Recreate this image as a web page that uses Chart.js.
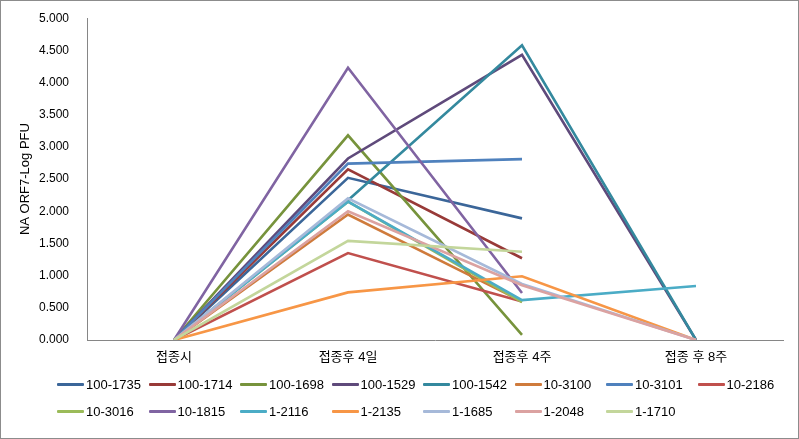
<!DOCTYPE html>
<html>
<head>
<meta charset="utf-8">
<script src="https://cdn.jsdelivr.net/npm/chart.js@4/dist/chart.umd.min.js"></script>
<style>
  html, body { margin: 0; padding: 0; background: #fff; }
  #wrap { position: relative; width: 797px; height: 437px; border: 1px solid #8c8c8c; overflow: hidden; }
  #chart { position: absolute; left: 0; top: -8px; }
  #legend { position: absolute; left: 56px; top: 374px; width: 740px;
            font-family: "Liberation Sans", Arial, sans-serif; font-size: 13px; color: #000; }
  .item { position: absolute; height: 20px; line-height: 20px; white-space: nowrap; }
  .item span.mark { display: inline-block; width: 27px; height: 3px; vertical-align: middle;
                    margin-right: 2px; border-radius: 1px; position: relative; top: -1px; }
</style>
</head>
<body>
<div id="wrap">
  <canvas id="chart" width="797" height="445"></canvas>
  <div id="legend"></div>
</div>
<script>
// --- DATA ---
const categories = ['접종시', '접종후 4일', '접종후 4주', '접종 후 8주'];
const yTicks = ['0.000', '0.500', '1.000', '1.500', '2.000', '2.500', '3.000', '3.500', '4.000', '4.500', '5.000'];

const seriesNames = ['100-1735', '100-1714', '100-1698', '100-1529', '100-1542', '10-3100', '10-3101', '10-2186',
                     '10-3016', '10-1815', '1-2116', '1-2135', '1-1685', '1-2048', '1-1710'];

const v100_1735 = [0, 2.52, 1.89, null];
const v100_1714 = [0, 2.65, 1.27, null];
const v100_1698 = [0, 3.18, 0.08, null];
const v100_1529 = [0, 2.82, 4.43, 0];
const v100_1542 = [0, 2.17, 4.58, 0];
const v10_3100  = [0, 1.95, 0.60, null];
const v10_3101  = [0, 2.74, 2.81, null];
const v10_2186  = [0, 1.35, 0.60, null];
const v10_3016  = [0, 2.15, 0.59, null];
const v10_1815  = [0, 4.23, 0.73, null];
const v1_2116   = [0, 2.15, 0.62, 0.84];
const v1_2135   = [0, 0.74, 0.99, 0];
const v1_1685   = [0, 2.20, 0.87, 0];
const v1_2048   = [0, 2.00, 0.85, 0];
const v1_1710   = [0, 1.54, 1.37, null];

const seriesValues = [v100_1735, v100_1714, v100_1698, v100_1529, v100_1542, v10_3100, v10_3101, v10_2186,
                      v10_3016, v10_1815, v1_2116, v1_2135, v1_1685, v1_2048, v1_1710];

const seriesColors = ['#3b6699', '#983a38', '#77933c', '#5f4a7b', '#34899e', '#cf7b3c', '#4f81bd', '#c0504d',
                      '#9bbb59', '#8064a2', '#4bacc6', '#f79646', '#a6b9d9', '#dba2a1', '#c3d69b'];

const FONT = '"Liberation Sans", "Noto Sans CJK KR", Arial, sans-serif';

// --- CHART ---
const datasets = seriesNames.map((name, i) => ({
    label: name,
    data: seriesValues[i],
    borderColor: seriesColors[i],
    backgroundColor: seriesColors[i],
    borderWidth: 2.6,
    pointRadius: 0,
    tension: 0,
    spanGaps: false,
    order: seriesNames.length - i   // later series on top, like the original
}));

new Chart(document.getElementById('chart'), {
    type: 'line',
    data: { labels: categories, datasets },
    options: {
        responsive: false,
        animation: false,
        layout: { padding: { left: 13, right: 15, top: 2, bottom: 0 } },
        plugins: { legend: { display: false }, tooltip: { enabled: false } },
        scales: {
            x: {
                offset: true,
                grid: { display: false, drawTicks: false },
                border: { color: '#868686', width: 1 },
                ticks: { color: '#000', font: { family: FONT, size: 13 }, padding: 10, maxRotation: 0 },
                afterFit: s => { s.height = 98; }
            },
            y: {
                min: 0, max: 5,
                grid: { display: false, drawTicks: false },
                border: { color: '#868686', width: 1 },
                ticks: {
                    stepSize: 0.5,
                    color: '#000',
                    font: { family: FONT, size: 12 },
                    padding: 18,
                    callback: (v, i) => yTicks[i]
                },
                title: {
                    display: true,
                    text: 'NA ORF7-Log PFU',
                    color: '#000',
                    font: { family: FONT, size: 13 },
                    padding: { top: 4, bottom: 0 }
                },
                afterFit: s => { s.width = 73; }
            }
        }
    }
});

// --- LEGEND (fixed column grid, like the original) ---
const legend = document.getElementById('legend');
seriesNames.forEach((name, i) => {
    const col = i % 8, row = Math.floor(i / 8);
    const el = document.createElement('div');
    el.className = 'item';
    el.style.left = (col * 91.5) + 'px';
    el.style.top = (row * 27) + 'px';
    el.innerHTML = `<span class="mark" style="background:${seriesColors[i]}"></span>${name}`;
    legend.appendChild(el);
});
</script>
</body>
</html>
